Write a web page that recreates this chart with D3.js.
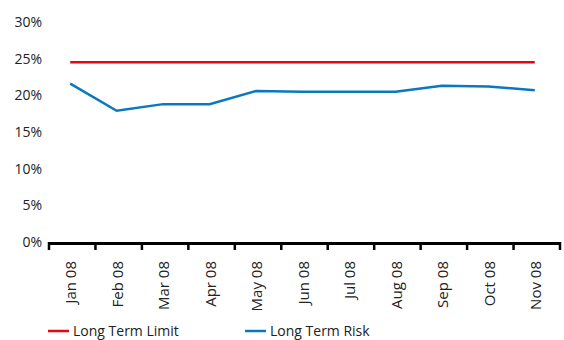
<!DOCTYPE html>
<html>
<head>
<meta charset="utf-8">
<style>
  body { margin: 0; background: #fff; }
  text { font-family: "Open Sans", "DejaVu Sans", sans-serif; fill: #222; }
</style>
</head>
<body>
<svg id="chart" width="564" height="340"></svg>
<script src="https://cdn.jsdelivr.net/npm/d3@7"></script>
<script>
  var months = ["Jan 08", "Feb 08", "Mar 08", "Apr 08", "May 08", "Jun 08", "Jul 08", "Aug 08", "Sep 08", "Oct 08", "Nov 08"];
  var limitValues = [24.5, 24.5, 24.5, 24.5, 24.5, 24.5, 24.5, 24.5, 24.5, 24.5, 24.5];
  var riskValues = [21.6, 17.9, 18.8, 18.8, 20.6, 20.5, 20.5, 20.5, 21.3, 21.2, 20.7];
  var yTicks = [0, 5, 10, 15, 20, 25, 30];

  var svg = d3.select("#chart");
  var plotLeft = 49, plotRight = 560, plotTop = 22, plotBottom = 242;

  var x = d3.scaleBand().domain(months).range([plotLeft, plotRight]);
  var y = d3.scaleLinear().domain([0, 30]).range([plotBottom, plotTop]);

  // y labels, no axis line
  svg.selectAll(".ylab")
    .data(yTicks)
    .enter().append("text")
    .attr("class", "ylab")
    .attr("x", 42)
    .attr("y", function (d) { return y(d); })
    .attr("dy", "0.35em")
    .attr("text-anchor", "end")
    .style("font-size", "14px")
    .text(function (d) { return d + "%"; });

  // x axis line and ticks
  svg.append("line")
    .attr("x1", plotLeft - 1).attr("x2", plotRight + 1)
    .attr("y1", plotBottom + 1.5).attr("y2", plotBottom + 1.5)
    .attr("stroke", "#000").attr("stroke-width", 3);

  var tickPos = months.map(function (m) { return x(m); }).concat([plotRight]);
  svg.selectAll(".tick")
    .data(tickPos)
    .enter().append("line")
    .attr("x1", function (d) { return d; }).attr("x2", function (d) { return d; })
    .attr("y1", plotBottom).attr("y2", plotBottom + 8)
    .attr("stroke", "#000").attr("stroke-width", 2.5);

  svg.selectAll(".xlab")
    .data(months)
    .enter().append("text")
    .attr("class", "xlab")
    .attr("transform", function (d) {
      return "translate(" + (x(d) + x.bandwidth() / 2 - 1) + "," + 261 + ") rotate(-90)";
    })
    .attr("dy", "0.35em")
    .attr("text-anchor", "end")
    .style("font-size", "15px")
    .text(function (d) { return d; });

  var line = d3.line()
    .x(function (d, i) { return x(months[i]) + x.bandwidth() / 2 - 2; })
    .y(function (d) { return y(d); });

  svg.append("path")
    .datum(limitValues)
    .attr("d", line)
    .attr("fill", "none")
    .attr("stroke", "#e30613")
    .attr("stroke-width", 2.5);

  svg.append("path")
    .datum(riskValues)
    .attr("d", line)
    .attr("fill", "none")
    .attr("stroke", "#0a78c0")
    .attr("stroke-width", 2.5);

  // legend
  var legend = [
    { name: "Long Term Limit", color: "#e30613", x: 48 },
    { name: "Long Term Risk", color: "#0a78c0", x: 245 }
  ];
  var lg = svg.selectAll(".legend")
    .data(legend)
    .enter().append("g")
    .attr("transform", function (d) { return "translate(" + d.x + ",331)"; });
  lg.append("line")
    .attr("x1", 0).attr("x2", 21)
    .attr("stroke", function (d) { return d.color; })
    .attr("stroke-width", 2.5);
  lg.append("text")
    .attr("x", 25)
    .attr("dy", "0.35em")
    .style("font-size", "14px")
    .text(function (d) { return d.name; });
</script>
</body>
</html>
